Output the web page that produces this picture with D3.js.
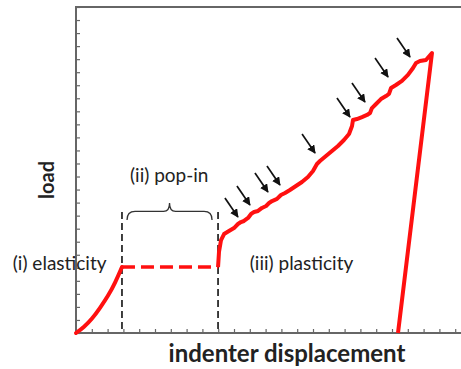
<!DOCTYPE html>
<html>
<head>
<meta charset="utf-8">
<script src="https://cdn.jsdelivr.net/npm/d3@7"></script>
<style>
  body { margin: 0; background: #fff; }
  svg { display: block; }
  text { font-family: Lato, 'Open Sans', sans-serif; fill: #222; }
</style>
</head>
<body>
<script>
// elastic loading (x = displacement, y = load, in tick units)
var elasticX = [0, 0.51, 1.01, 1.52, 2.03, 2.47, 2.91]
var elasticY = [0, 0.46, 1.07, 1.92, 2.84, 3.83, 5.06]

// pop-in plateau
var popinX = [2.91, 8.99]
var popinY = [5.06, 5.06]

// plastic loading with serrations
var plasticX = [8.99, 9.05, 9.18, 9.37, 9.68, 10.00, 10.25, 10.44, 10.63, 10.89, 11.08, 11.27, 11.52, 11.77,
  12.03, 12.22, 12.41, 12.72, 12.97, 13.23, 13.54, 13.92, 14.30, 14.68, 15.00, 15.25, 15.44, 15.82, 16.20,
  16.58, 16.96, 17.28, 17.47, 17.53, 17.78, 18.10, 18.42, 18.61, 18.73, 18.99, 19.30, 19.62, 19.81, 19.94,
  20.25, 20.63, 21.01, 21.33, 21.52, 21.77, 22.15, 22.53]
var plasticY = [5.06, 6.21, 7.13, 7.59, 7.82, 8.05, 8.36, 8.51, 8.59, 8.82, 9.13, 9.28, 9.36, 9.59,
  9.74, 9.97, 10.12, 10.28, 10.58, 10.74, 10.97, 11.27, 11.58, 11.96, 12.42, 12.96, 13.19, 13.57, 13.96,
  14.34, 14.80, 15.26, 15.87, 16.33, 16.41, 16.56, 16.72, 16.87, 17.25, 17.56, 17.94, 18.17, 18.33, 18.79,
  19.02, 19.33, 19.79, 20.32, 20.71, 20.86, 20.94, 21.47]

// unloading
var unloadX = [22.53, 20.38]
var unloadY = [21.47, 0]

// arrow tips marking pop-in events along the plastic branch
var arrowX = [10.25, 11.01, 12.15, 12.91, 15.13, 17.34, 18.29, 19.75, 21.14]
var arrowY = [8.90, 9.82, 10.81, 11.35, 13.80, 16.56, 17.71, 19.63, 21.17]

// dashed guide lines
var guideX = [2.91, 8.99]
var guideTop = 9.28

var labels = [
  { text: '(i) elasticity', x: -4.0, y: 4.85, anchor: 'start' },
  { text: '(ii) pop-in', x: 5.9, y: 11.6, anchor: 'middle' },
  { text: '(iii) plasticity', x: 11.0, y: 4.85, anchor: 'start' }
]

var width = 461
var height = 369
var marginLeft = 76
var marginTop = 7
var marginBottom = 333

var x = d3.scaleLinear().domain([0, 25]).range([marginLeft, marginLeft + 395])
var y = d3.scaleLinear().domain([0, 25]).range([marginBottom, marginTop])

var svg = d3.select('body').append('svg')
  .attr('width', width)
  .attr('height', height)

var defs = svg.append('defs')
defs.append('marker')
  .attr('id', 'head')
  .attr('viewBox', '0 0 10 10')
  .attr('refX', 9)
  .attr('refY', 5)
  .attr('markerWidth', 5)
  .attr('markerHeight', 5)
  .attr('orient', 'auto')
  .append('path')
  .attr('d', 'M0,0 L10,5 L0,10 z')
  .style('fill', '#111')

// axes, ticks inward
var axisColor = '#666'
svg.append('g')
  .attr('transform', 'translate(0,' + marginBottom + ')')
  .call(d3.axisBottom(x).tickValues(d3.range(0, 26)).tickSize(-4).tickFormat(''))
svg.append('g')
  .attr('transform', 'translate(' + marginLeft + ',0)')
  .call(d3.axisLeft(y).tickValues(d3.range(0, 26)).tickSize(-4).tickFormat(''))
svg.selectAll('.domain').remove()
svg.selectAll('.tick line').style('stroke', axisColor).style('stroke-width', 1.2)

svg.append('path')
  .attr('d', 'M' + (width + 10) + ',' + marginTop + 'H' + marginLeft + 'V' + marginBottom + 'H' + (width + 10))
  .style('fill', 'none')
  .style('stroke', axisColor)
  .style('stroke-width', 2)

// dashed guides
svg.selectAll('.guide')
  .data(guideX)
  .enter().append('line')
  .attr('class', 'guide')
  .attr('x1', function (d) { return x(d) })
  .attr('x2', function (d) { return x(d) })
  .attr('y1', y(guideTop))
  .attr('y2', y(0))
  .style('stroke', '#111')
  .style('stroke-width', 1.6)
  .style('stroke-dasharray', '7,4')

// curly brace over the pop-in
var bx0 = x(3.23)
var bx1 = x(8.61)
var bm = (bx0 + bx1) / 2
var by0 = y(8.67)
var by1 = y(9.97)
var bq = (by0 + by1) / 2
var brace = d3.path()
brace.moveTo(bx0, by0)
brace.quadraticCurveTo(bx0, bq, bx0 + 8, bq)
brace.lineTo(bm - 6, bq)
brace.quadraticCurveTo(bm, bq, bm, by1)
brace.quadraticCurveTo(bm, bq, bm + 6, bq)
brace.lineTo(bx1 - 8, bq)
brace.quadraticCurveTo(bx1, bq, bx1, by0)
svg.append('path')
  .attr('d', brace.toString())
  .style('fill', 'none')
  .style('stroke', '#333')
  .style('stroke-width', 1.3)

var line = d3.line()
  .x(function (d) { return x(d[0]) })
  .y(function (d) { return y(d[1]) })

function pts (xs, ys) { return xs.map(function (v, i) { return [v, ys[i]] }) }

var red = '#ff1010'
svg.append('path')
  .attr('d', line.curve(d3.curveBasis)(pts(elasticX, elasticY)))
  .style('fill', 'none').style('stroke', red).style('stroke-width', 4)
  .style('stroke-linecap', 'round')

svg.append('path')
  .attr('d', line.curve(d3.curveLinear)(pts(popinX, popinY)))
  .style('fill', 'none').style('stroke', red).style('stroke-width', 3.5)
  .style('stroke-dasharray', '13,6')

svg.append('path')
  .attr('d', line.curve(d3.curveLinear)(pts(plasticX, plasticY).concat(pts(unloadX, unloadY).slice(1))))
  .style('fill', 'none').style('stroke', red).style('stroke-width', 4)
  .style('stroke-linejoin', 'round')

// arrows
svg.selectAll('.arrow')
  .data(pts(arrowX, arrowY))
  .enter().append('line')
  .attr('class', 'arrow')
  .attr('x1', function (d) { return x(d[0]) - 13 })
  .attr('y1', function (d) { return y(d[1]) - 19 })
  .attr('x2', function (d) { return x(d[0]) })
  .attr('y2', function (d) { return y(d[1]) })
  .style('stroke', '#111')
  .style('stroke-width', 1.7)
  .attr('marker-end', 'url(#head)')

// labels
svg.selectAll('.label')
  .data(labels)
  .enter().append('text')
  .attr('class', 'label')
  .attr('x', function (d) { return x(d.x) })
  .attr('y', function (d) { return y(d.y) })
  .attr('text-anchor', function (d) { return d.anchor })
  .style('font-size', '19px')
  .text(function (d) { return d.text })

svg.append('text')
  .attr('x', 287)
  .attr('y', 362)
  .attr('text-anchor', 'middle')
  .style('font-size', '24px')
  .style('font-weight', 'bold')
  .text('indenter displacement')

svg.append('text')
  .attr('transform', 'translate(54,180) rotate(-90)')
  .attr('text-anchor', 'middle')
  .style('font-size', '20px')
  .style('font-weight', 'bold')
  .text('load')
</script>
</body>
</html>
